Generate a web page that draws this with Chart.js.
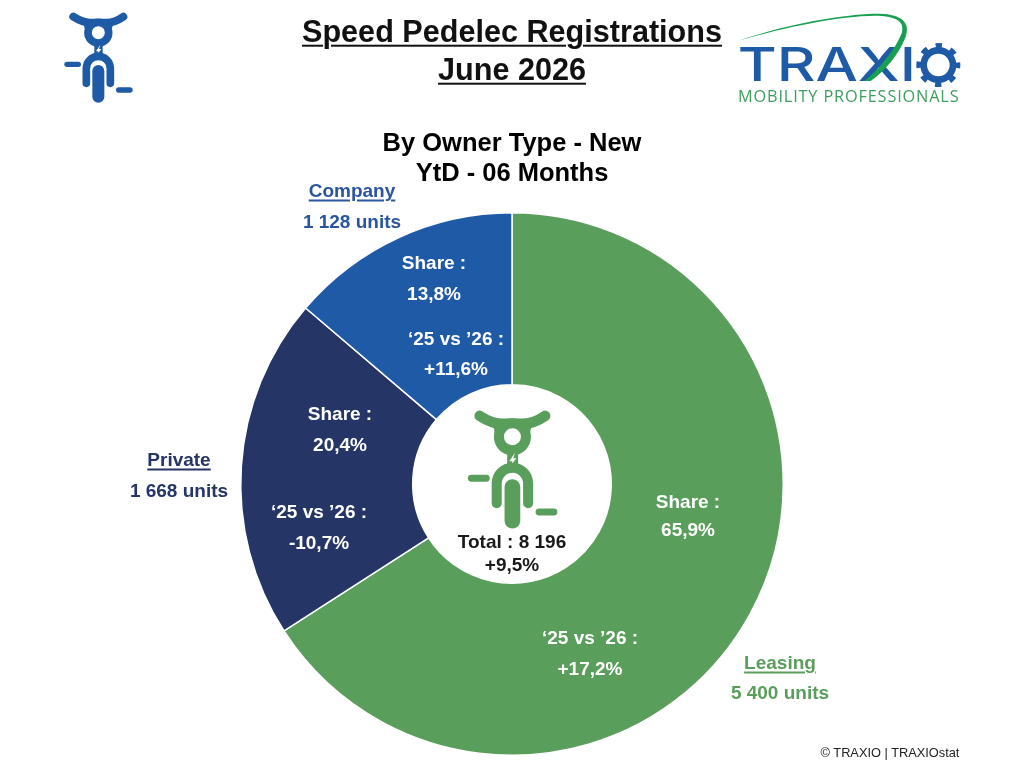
<!DOCTYPE html>
<html>
<head>
<meta charset="utf-8">
<script src="https://cdn.jsdelivr.net/npm/chart.js@4/dist/chart.umd.min.js"></script>
<style>
html,body{margin:0;padding:0;background:#fff;width:1024px;height:768px;overflow:hidden}
#wrap{position:relative;width:1024px;height:768px;font-family:"Liberation Sans",Arial,sans-serif}
canvas{position:absolute;left:0;top:0}
.t{position:absolute;transform:translate(-50%,-50%);white-space:nowrap;font-weight:700;font-size:19px;line-height:1}
.u{text-decoration:underline;text-underline-offset:3px;text-decoration-thickness:2px}
svg.abs{position:absolute;overflow:visible}
</style>
</head>
<body>
<div id="wrap">
<canvas id="c" width="1024" height="768"></canvas>
<svg width="0" height="0" style="position:absolute">
<defs>
<g id="bike">
<path d="M100,50 Q128,68 150,68 L200,68 Q224,68 250,50" fill="none" stroke="currentColor" stroke-width="24" stroke-linecap="round"/>
<path d="M128,62 L222,62 L212,100 L138,100 Z" fill="currentColor"/>
<circle cx="175" cy="98" r="31" fill="#fff" stroke="currentColor" stroke-width="23"/>
<rect x="163" y="128" width="25" height="42" fill="currentColor"/>
<polygon points="181,134 168,154 175,154 170,166 184,147 177,147" fill="#fff"/>
<path d="M139,250 L139,205 A36,36 0 0 1 211,205 L211,250" fill="none" stroke="currentColor" stroke-width="23" stroke-linecap="round"/>
<rect x="157" y="195" width="36" height="113" rx="18" fill="currentColor"/>
<rect x="73" y="185" width="50" height="16" rx="8" fill="currentColor"/>
<rect x="228" y="262" width="50" height="16" rx="8" fill="currentColor"/>
</g>
</defs>
</svg>
<svg class="abs" style="left:40px;top:0;color:#1f5aa6" width="120" height="110" viewBox="0 0 360 330"><use href="#bike"/></svg>
<svg class="abs" style="left:435.9px;top:393.5px;color:#5a9e5b" width="157.2" height="144.1" viewBox="0 0 360 330"><use href="#bike"/></svg>
<svg class="abs" style="left:720px;top:0" width="260" height="115" viewBox="0 0 780 345">
<text x="53" y="243" textLength="535" lengthAdjust="spacingAndGlyphs" font-family="Inter,'Liberation Sans',sans-serif" font-weight="500" font-size="141" fill="#1f5aa6">TRAXI</text>
<circle cx="655" cy="195" r="44" fill="none" stroke="#1f5aa6" stroke-width="20"/>
<circle cx="655" cy="195" r="56" fill="none" stroke="#1f5aa6" stroke-width="20" pathLength="80" stroke-dasharray="4.2 5.8" stroke-dashoffset="2.1"/>
<path d="M55,122 C200,72 380,40 480,41 C545,43 572,68 557,110 C537,165 492,215 452,243 L433,243 C480,205 525,150 545,100 C556,65 530,50 475,47 C370,45 200,80 55,122 Z" fill="#18a050"/>
<text x="54" y="305" textLength="662" lengthAdjust="spacing" font-family="'Open Sans','Liberation Sans',sans-serif" font-weight="400" font-size="49" fill="#3f9e5f">MOBILITY PROFESSIONALS</text>
</svg>
</div>
<script>
const categories = ["Leasing", "Private", "Company"];
const units = [5400, 1668, 1128];
const shares = ["65,9%", "20,4%", "13,8%"];
const changes = ["+17,2%", "-10,7%", "+11,6%"];
const sliceColors = ["#5a9e5b", "#243566", "#1f5aa6"];
const unitColors = ["#5a9e5b", "#243566", "#2a569f"];
const titleLines = ["Speed Pedelec Registrations", "June 2026"];
const subtitleLines = ["By Owner Type - New", "YtD - 06 Months"];
const totalLabel = "Total : 8 196";
const totalChange = "+9,5%";
const compareLabel = "‘25 vs ’26 :";
const shareLabel = "Share :";
const copyright = "© TRAXIO | TRAXIOstat";

const wrap = document.getElementById('wrap');
function put(txt, x, y, o) {
  o = o || {};
  const d = document.createElement('div');
  d.className = 't' + (o.u ? ' u' : '');
  d.textContent = txt;
  d.style.left = x + 'px';
  d.style.top = y + 'px';
  d.style.color = o.c || '#000';
  if (o.s) d.style.fontSize = o.s + 'px';
  if (o.w) d.style.fontWeight = o.w;
  wrap.appendChild(d);
}
const fmt = n => String(n).replace(/\B(?=(\d{3})+$)/g, ' ');

put(titleLines[0], 512, 31, {s: 30.6, u: 1, c: '#111'});
put(titleLines[1], 512, 69, {s: 30.6, u: 1, c: '#111'});
put(subtitleLines[0], 512, 143, {s: 25.5});
put(subtitleLines[1], 512, 173, {s: 25.5});

const namePos = [[780, 662], [179, 459], [352, 190]];
const unitPos = [[780, 692], [179, 490], [352, 221]];
const sharePos = [[688, 501, 529], [340, 413, 444], [434, 262, 293]];
const changePos = [[590, 637, 668], [319, 511, 542], [456, 338, 368]];
categories.forEach((name, i) => {
  put(name, namePos[i][0], namePos[i][1], {c: unitColors[i], u: 1});
  put(fmt(units[i]) + ' units', unitPos[i][0], unitPos[i][1], {c: unitColors[i]});
  put(shareLabel, sharePos[i][0], sharePos[i][1], {c: '#fff'});
  put(shares[i], sharePos[i][0], sharePos[i][2], {c: '#fff'});
  put(compareLabel, changePos[i][0], changePos[i][1], {c: '#fff'});
  put(changes[i], changePos[i][0], changePos[i][2], {c: '#fff'});
});
put(totalLabel, 512, 541, {c: '#1a1a1a'});
put(totalChange, 512, 564, {c: '#1a1a1a'});
put(copyright, 890, 753, {s: 12.8, w: 400, c: '#222'});

new Chart(document.getElementById('c'), {
  type: 'doughnut',
  data: {
    labels: categories,
    datasets: [{
      data: units,
      backgroundColor: sliceColors,
      borderColor: '#fff',
      borderWidth: 1.5
    }]
  },
  options: {
    responsive: false,
    animation: false,
    cutout: '36.6%',
    layout: {padding: {left: 240, right: 240, top: 212, bottom: 12}},
    plugins: {legend: {display: false}, tooltip: {enabled: false}, title: {display: false}}
  }
});
</script>
</body>
</html>
